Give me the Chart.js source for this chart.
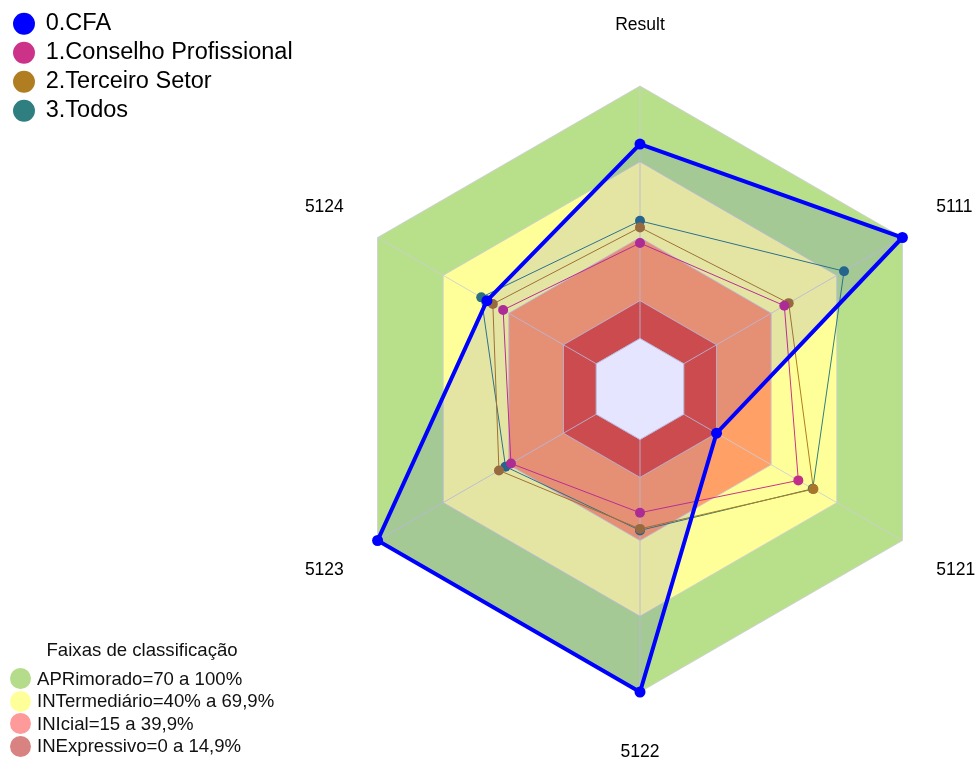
<!DOCTYPE html>
<html>
<head>
<meta charset="utf-8">
<script src="https://cdn.jsdelivr.net/npm/chart.js@4.4.1/dist/chart.umd.min.js"></script>
<style>
  html, body { margin: 0; padding: 0; background: #ffffff; }
  #wrap { position: relative; width: 979px; height: 763px; overflow: hidden; }
  #wrap canvas { position: absolute; left: 0; top: 0; }
  #bandLegend {
    position: absolute; left: 10px; top: 639px;
    font-family: "Liberation Sans", Arial, sans-serif; font-size: 18.6px; color: #111;
    line-height: 22.5px; display: inline-block;
  }
  #bandLegend .title { text-align: center; margin-bottom: 6px; }
  #bandLegend .item { display: flex; align-items: center; white-space: nowrap; }
  #bandLegend .dot { width: 21px; height: 21px; border-radius: 50%; margin-right: 6px; flex: none; }
</style>
</head>
<body>
<div id="wrap">
  <canvas id="bandsChart" width="979" height="763"></canvas>
  <canvas id="seriesChart" width="979" height="763"></canvas>
  <div id="bandLegend"></div>
</div>
<script>
// ---------- DATA ----------
const axisLabels = ['Result', '5111', '5121', '5122', '5123', '5124'];
const seriesNames = ['0.CFA', '1.Conselho Profissional', '2.Terceiro Setor', '3.Todos'];
const cfaValues = [77, 100, 15, 100, 100, 50];
const conselhoValues = [37.8, 46, 52.4, 29, 39, 42.6];
const terceiroValues = [44, 48, 59.3, 35.4, 44.5, 47.3];
const todosValues = [46.6, 73.3, 59, 36, 41.5, 52.6];
const bandTitle = 'Faixas de classificação';
const bandNames = ['APRimorado=70 a 100%', 'INTermediário=40% a 69,9%', 'INIcial=15 a 39,9%', 'INExpressivo=0 a 14,9%'];
const bandUpper = [100, 70, 40, 15];
const bandFloor = 0;
const scaleMin = -20;
const scaleMax = 100;

// ---------- STYLE ----------
const FONT = '"Liberation Sans", Arial, sans-serif';
const seriesColors = ['#0000FF', '#CC3388', '#B07D20', '#2F7E80'];
const seriesPointColors = ['#0000FF', '#C0308A', '#A8752A', '#2A7080'];
const bandFill = ['#B8E08A', '#FFFF99', '#FFA066', '#E2543C'];
const bandLegendColors = ['#B5DC8A', '#FFFF99', '#FF9A9A', '#D98282'];
const gridColor = 'rgba(205,205,215,0.85)';

function pointPad(ctx) { return (ctx.index % 3 === 0) ? 50 : 39; }

function legendOpts(visible) {
  return {
    display: true,
    position: 'left',
    align: 'start',
    fullSize: true,
    onClick: null,
    labels: {
      font: { family: FONT, size: 23.5 },
      color: visible ? '#000' : 'rgba(0,0,0,0)',
      usePointStyle: true,
      boxWidth: 20,
      boxHeight: 15.5,
      padding: 5.5,
      generateLabels: () => seriesNames.map((name, i) => ({
        text: name,
        fillStyle: visible ? seriesColors[i] : 'rgba(0,0,0,0)',
        strokeStyle: 'rgba(0,0,0,0)',
        fontColor: visible ? '#000' : 'rgba(0,0,0,0)',
        lineWidth: 0,
        pointStyle: 'circle',
        hidden: false,
        datasetIndex: i
      }))
    }
  };
}

// empty spacer title: pushes the plot area down without moving the legend
const spacerTitle = { display: true, text: '', fullSize: false, font: { size: 1 }, padding: { top: 0, bottom: 7.3 } };

function scaleOpts(visible) {
  return {
    min: scaleMin,
    max: scaleMax,
    afterBuildTicks: (s) => {
      s.ticks = [bandFloor].concat(bandUpper.slice().reverse()).map(v => ({ value: v }));
    },
    ticks: { display: false },
    grid: { display: visible, color: gridColor, lineWidth: 1, z: visible ? 1 : -1 },
    angleLines: { display: visible, color: gridColor, lineWidth: 1 },
    pointLabels: {
      display: true,
      font: { family: FONT, size: 17.5 },
      color: visible ? '#000' : 'rgba(0,0,0,0)',
      padding: pointPad
    }
  };
}

const commonLayout = { padding: { left: 8.5, top: 6.5, right: -2, bottom: -9 } };

// ---------- bands chart (bottom layer) ----------
new Chart(document.getElementById('bandsChart'), {
  type: 'radar',
  data: {
    labels: axisLabels,
    datasets: bandUpper.slice().reverse().map((v, k) => {
      const i = bandUpper.length - 1 - k;
      return {
        label: bandNames[i],
        data: axisLabels.map(() => bandUpper[i]),
        backgroundColor: bandFill[i],
        borderWidth: 0,
        pointRadius: 0,
        fill: 'start'
      };
    })
  },
  options: {
    responsive: false,
    animation: false,
    layout: commonLayout,
    plugins: { title: spacerTitle, legend: legendOpts(false), tooltip: { enabled: false } },
    scales: { r: scaleOpts(true) }
  }
});

// ---------- series chart (top layer) ----------
const seriesData = [cfaValues, conselhoValues, terceiroValues, todosValues];
const seriesDatasets = seriesData.map((vals, i) => ({
  label: seriesNames[i],
  data: vals,
  borderColor: seriesColors[i],
  borderWidth: i === 0 ? 4 : 1,
  backgroundColor: i === 0 ? 'rgba(0,0,255,0.1)' : 'rgba(0,0,0,0)',
  fill: i === 0 ? 'start' : false,
  pointRadius: i === 0 ? 5.5 : 5,
  pointBackgroundColor: seriesPointColors[i],
  pointBorderColor: seriesPointColors[i],
  pointBorderWidth: 0
}));
seriesDatasets.push({
  label: 'centro',
  data: axisLabels.map(() => bandFloor),
  backgroundColor: '#ffffff',
  borderColor: gridColor,
  borderWidth: 1,
  pointRadius: 0,
  fill: 'start'
});

new Chart(document.getElementById('seriesChart'), {
  type: 'radar',
  data: { labels: axisLabels, datasets: seriesDatasets },
  options: {
    responsive: false,
    animation: false,
    layout: commonLayout,
    plugins: { title: spacerTitle, legend: legendOpts(true), tooltip: { enabled: false } },
    scales: { r: scaleOpts(false) }
  }
});

// ---------- band legend (HTML) ----------
const bl = document.getElementById('bandLegend');
const t = document.createElement('div');
t.className = 'title';
t.textContent = bandTitle;
bl.appendChild(t);
bandNames.forEach((n, i) => {
  const row = document.createElement('div');
  row.className = 'item';
  const d = document.createElement('span');
  d.className = 'dot';
  d.style.background = bandLegendColors[i];
  const s = document.createElement('span');
  s.textContent = n;
  row.appendChild(d);
  row.appendChild(s);
  bl.appendChild(row);
});
</script>
</body>
</html>
